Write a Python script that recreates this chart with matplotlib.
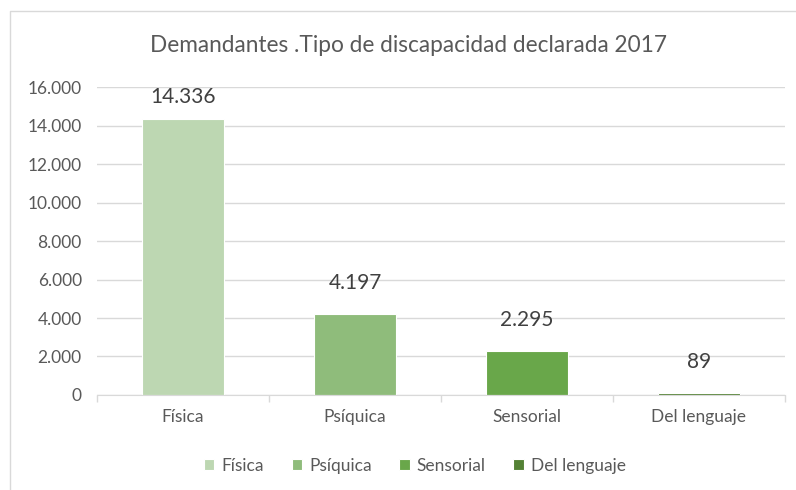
import matplotlib
matplotlib.use('Agg')
import matplotlib.pyplot as plt
from matplotlib.lines import Line2D
from matplotlib.ticker import FuncFormatter, FixedLocator

categorias = ['Física', 'Psíquica', 'Sensorial', 'Del lenguaje']
valores    = [14336, 4197, 2295, 89]
colores    = ['#BDD7B2', '#8FBC7B', '#69A74A', '#548235']
yticks     = [0, 2000, 4000, 6000, 8000, 10000, 12000, 14000, 16000]

plt.rcParams['font.family'] = ['Lato', 'DejaVu Sans']

def miles(v, pos=None):
    return '{:,.0f}'.format(v).replace(',', '.')

fig = plt.figure(figsize=(7.96, 4.90), dpi=100)
ax = fig.add_axes([0.122, 0.194, 0.864, 0.628])

# marco del grafico (solo se ven el borde izquierdo y superior)
x0, y0 = 9.5 / 796, 1 - 11.5 / 490
fig.lines.append(Line2D([x0, x0, 1.0], [0.0, y0, y0], transform=fig.transFigure,
                        color='#D9D9D9', linewidth=1))

x = range(len(categorias))
ax.bar(x, valores, width=0.48, color=colores, label=categorias,
       edgecolor='white', linewidth=0.8, zorder=2)

# etiquetas encima de la barra, sin salirse del area del grafico
for xi, v in zip(x, valores):
    ax.text(xi, min(v + 1600, 15500), miles(v), ha='center', va='center',
            fontsize=15, color='#404040')

ax.set_xlim(-0.5, 3.5)
ax.set_ylim(0, 16000)
ax.set_yticks(yticks)
ax.yaxis.set_major_formatter(FuncFormatter(miles))
ax.grid(axis='y', color='#D9D9D9', linewidth=1, zorder=0)
ax.set_axisbelow(True)

ax.set_xticks(list(x))
ax.set_xticklabels(categorias)
ax.xaxis.set_minor_locator(FixedLocator([-0.5, 0.5, 1.5, 2.5, 3.5]))
ax.tick_params(axis='x', which='major', length=0, pad=10, labelsize=12.5, labelcolor='#595959')
ax.tick_params(axis='x', which='minor', length=5, color='#D9D9D9', width=1)
ax.tick_params(axis='y', length=0, pad=11, labelsize=12.5, labelcolor='#595959')

for s in ['top', 'right', 'left']:
    ax.spines[s].set_visible(False)
ax.spines['bottom'].set_color('#D9D9D9')

fig.text(0.513, 0.908, 'Demandantes .Tipo de discapacidad declarada 2017',
         ha='center', va='center', fontsize=16.3, color='#595959')

ax.legend(loc='center', bbox_to_anchor=(0.462, -0.23), ncol=4, frameon=False,
          fontsize=12.5, labelcolor='#595959', handlelength=0.6, handleheight=0.6,
          handletextpad=0.4, columnspacing=1.6)

fig.savefig('out.png', dpi=100)
